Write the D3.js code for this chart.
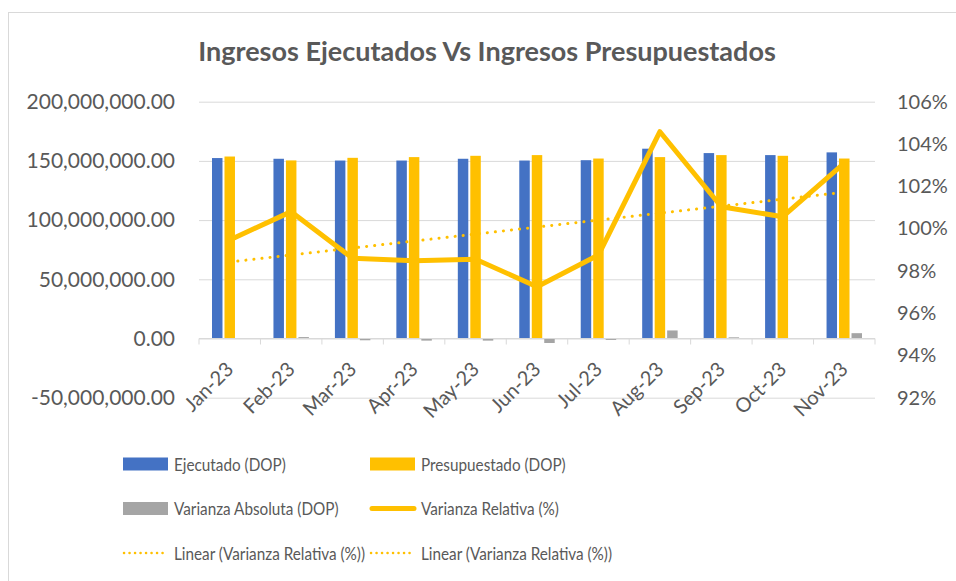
<!DOCTYPE html>
<meta charset="utf-8">
<script src="https://d3js.org/d3.v7.min.js"></script>
<style>
  body { margin: 0; background: #fff; }
  text { font-family: Lato, "Open Sans", sans-serif; fill: #595959; }
</style>
<div id="chart"></div>
<script>
// data
const months = ["Jan-23", "Feb-23", "Mar-23", "Apr-23", "May-23", "Jun-23", "Jul-23", "Aug-23", "Sep-23", "Oct-23", "Nov-23"];
const ejecutado = [152.4e6, 151.8e6, 150.3e6, 150.3e6, 151.8e6, 150.3e6, 150.6e6, 160.3e6, 156.6e6, 154.9e6, 157.2e6];
const presupuestado = [153.7e6, 150.4e6, 152.6e6, 153.2e6, 154.3e6, 154.9e6, 152.0e6, 153.2e6, 154.9e6, 154.3e6, 152.0e6];
const varianzaAbs = [-0.3e6, 1.2e6, -1.5e6, -1.8e6, -1.8e6, -3.8e6, -1.2e6, 6.8e6, 1.0e6, 0.3e6, 4.5e6];
const varianzaRel = [99.46, 100.80, 98.59, 98.48, 98.55, 97.25, 98.75, 104.58, 101.03, 100.56, 103.09];
// linear trendline of Varianza Relativa, value at first and last month
const trendRel = [98.42, 101.72];
const leftTicks = [-50e6, 0, 50e6, 100e6, 150e6, 200e6];
const rightTicks = [92, 94, 96, 98, 100, 102, 104, 106];

const W = 956, H = 581;
const plot = {left: 199, right: 875, top: 101.7, bottom: 397.7};

const svg = d3.select("#chart").append("svg")
    .attr("width", W).attr("height", H);

// chart frame
svg.append("rect")
    .attr("x", 8.5).attr("y", 12.5)
    .attr("width", 1000).attr("height", 700)
    .attr("fill", "none").attr("stroke", "#D9D9D9");

svg.append("text")
    .attr("x", 487).attr("y", 61)
    .attr("text-anchor", "middle")
    .style("font-size", "27px").style("font-weight", "bold")
    .text("Ingresos Ejecutados Vs Ingresos Presupuestados");

const x0 = d3.scaleBand().domain(months).range([plot.left, plot.right]);
const series = ["ejec", "pres", "abs"];
const x1 = d3.scaleBand().domain(series)
    .range([13, x0.bandwidth() - 13]).paddingInner(0.16);
const y = d3.scaleLinear().domain([-50e6, 200e6]).range([plot.bottom, plot.top]);
const y2 = d3.scaleLinear().domain([92, 106]).range([plot.bottom, plot.top]);

const fmt = d3.format(",.2f");

// left axis + gridlines
const gy = svg.append("g")
    .attr("transform", `translate(${plot.left},0)`)
    .call(d3.axisLeft(y).tickValues(leftTicks)
        .tickSize(-(plot.right - plot.left)).tickPadding(24)
        .tickFormat(d => fmt(d).replace("\u2212", "-")));
gy.select(".domain").remove();
gy.selectAll("line").attr("stroke", "#D9D9D9");
gy.selectAll("text").style("font-size", "21px").attr("fill", "#595959");

// right axis
const gy2 = svg.append("g")
    .attr("transform", `translate(${plot.right},0)`)
    .call(d3.axisRight(y2).tickValues(rightTicks).tickSize(0).tickPadding(22)
        .tickFormat(d => d + "%"));
gy2.select(".domain").remove();
gy2.selectAll("text").style("font-size", "20px").attr("fill", "#595959");

// bars
const barData = months.map((m, i) => ({m, vals: [ejecutado[i], presupuestado[i], varianzaAbs[i]]}));
const colors = {ejec: "#4472C4", pres: "#FFC000", abs: "#A5A5A5"};
svg.append("g").selectAll("g")
    .data(barData)
    .join("g")
    .attr("transform", d => `translate(${x0(d.m)},0)`)
    .selectAll("rect")
    .data(d => series.map((s, k) => ({s, v: d.vals[k]})))
    .join("rect")
    .attr("x", d => x1(d.s))
    .attr("width", x1.bandwidth())
    .attr("y", d => y(Math.max(0, d.v)))
    .attr("height", d => Math.abs(y(d.v) - y(0)))
    .attr("fill", d => colors[d.s]);

// category axis at zero
const gx = svg.append("g")
    .attr("transform", `translate(0,${y(0)})`);
gx.append("line")
    .attr("x1", plot.left).attr("x2", plot.right)
    .attr("stroke", "#D9D9D9");
gx.selectAll(".bound")
    .data(months.map(m => x0(m)).concat([plot.right]))
    .join("line")
    .attr("x1", d => d).attr("x2", d => d)
    .attr("y1", 0).attr("y2", 6)
    .attr("stroke", "#D9D9D9");
const ax = gx.append("g")
    .call(d3.axisBottom(x0).tickSize(0).tickPadding(0));
ax.select(".domain").remove();
ax.selectAll("text")
    .style("font-size", "20px").attr("fill", "#595959")
    .attr("text-anchor", "end")
    .attr("dy", null)
    .attr("transform", "translate(5,32) rotate(-45)");

// varianza relativa line
const cx = m => x0(m) + x0.bandwidth() / 2;
svg.append("path")
    .datum(varianzaRel)
    .attr("d", d3.line().x((d, i) => cx(months[i])).y(d => y2(d)))
    .attr("fill", "none")
    .attr("stroke", "#FFC000")
    .attr("stroke-width", 5)
    .attr("stroke-linejoin", "round")
    .attr("stroke-linecap", "round");

// linear trendline
svg.append("path")
    .datum(trendRel)
    .attr("d", d3.line().x((d, i) => cx(months[i * (months.length - 1)])).y(d => y2(d)))
    .attr("fill", "none")
    .attr("stroke", "#FFC000")
    .attr("stroke-width", 3)
    .attr("stroke-linecap", "round")
    .attr("stroke-dasharray", "0.1 8");

// legend
const legendItems = [
    {label: "Ejecutado (DOP)", type: "rect", color: "#4472C4"},
    {label: "Presupuestado (DOP)", type: "rect", color: "#FFC000"},
    {label: "Varianza Absoluta (DOP)", type: "rect", color: "#A5A5A5"},
    {label: "Varianza Relativa (%)", type: "line", color: "#FFC000"},
    {label: "Linear (Varianza Relativa (%))", type: "dot", color: "#FFC000"},
    {label: "Linear (Varianza Relativa (%))", type: "dot", color: "#FFC000"}
];
const lg = svg.append("g").selectAll("g")
    .data(legendItems)
    .join("g")
    .attr("transform", (d, i) => `translate(${i % 2 ? 370 : 123},${464 + Math.floor(i / 2) * 44.5})`);
lg.filter(d => d.type === "rect").append("rect")
    .attr("x", 0).attr("y", -6.5).attr("width", 45).attr("height", 13)
    .attr("fill", d => d.color);
lg.filter(d => d.type === "line").append("line")
    .attr("x1", 2).attr("x2", 44)
    .attr("stroke", d => d.color).attr("stroke-width", 5).attr("stroke-linecap", "round");
lg.filter(d => d.type === "dot").append("line")
    .attr("x1", 1).attr("x2", 40)
    .attr("stroke", d => d.color).attr("stroke-width", 2.5)
    .attr("stroke-linecap", "round").attr("stroke-dasharray", "0.1 5.4");
// condensed look of the original legend font
lg.append("text")
    .attr("transform", "translate(51,6.5) scale(0.85,1)")
    .style("font-size", "18px")
    .text(d => d.label);
</script>
